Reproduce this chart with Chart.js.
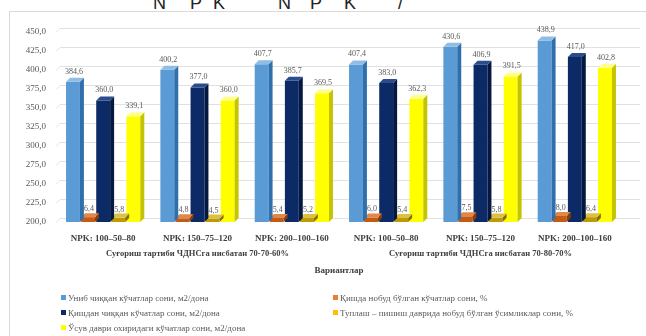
<!DOCTYPE html>
<html>
<head>
<meta charset="utf-8">
<script src="https://cdn.jsdelivr.net/npm/chart.js@4/dist/chart.umd.min.js"></script>
<style>
  html, body { margin: 0; padding: 0; background: #fff; }
  #wrap { position: relative; width: 646px; height: 336px; overflow: hidden; font-family: "Liberation Serif", serif; }
  #frame { position: absolute; left: 9px; top: 11px; width: 680px; height: 360px; border: 1px solid #d9d9d9; box-sizing: border-box; }
  #strip { position: absolute; left: 0; top: 0; width: 646px; height: 9px; overflow: hidden; font-family: "Liberation Sans", sans-serif; font-size: 18px; color: #222; }
  #strip span { position: absolute; top: -6px; line-height: 18px; }
  #chart { position: absolute; left: 0; top: 0; }
  #legend { position: absolute; left: 61px; top: 290px; display: grid; grid-template-columns: 272px auto; grid-auto-rows: 15px; font-size: 9px; color: #595959; }
  #legend div { white-space: nowrap; display: flex; align-items: center; }
  #legend i { display: inline-block; width: 5px; height: 5px; margin-right: 2px; }
</style>
</head>
<body>
<div id="wrap">
  <div id="strip"><span style="left:153px">N</span><span style="left:190px">P</span><span style="left:213px">K</span><span style="left:278px">N</span><span style="left:310px">P</span><span style="left:344px">K</span><span style="left:398px">/</span></div>
  <div id="frame"></div>
  <canvas id="chart" width="646" height="336"></canvas>
  <div id="legend"></div>
</div>
<script>
// Fertiliser variants under two irrigation regimes
const categories = ['NPK: 100–50–80', 'NPK: 150–75–120', 'NPK: 200–100–160',
                    'NPK: 100–50–80', 'NPK: 150–75–120', 'NPK: 200–100–160'];
const regimes = ['Суғориш тартиби ЧДНСга нисбатан 70-70-60%',
                 'Суғориш тартиби ЧДНСга нисбатан 70-80-70%'];
const axisTitle = 'Вариантлар';

// Plant counts, pcs per m2
const emerged     = [384.6, 400.2, 407.7, 407.4, 430.6, 438.9];
const afterWinter = [360.0, 377.0, 385.7, 383.0, 406.9, 417.0];
const endOfSeason = [339.1, 360.0, 369.5, 362.3, 391.5, 402.8];
// Losses, %
const winterLoss  = [6.4, 4.8, 5.4, 6.0, 7.5, 8.0];
const seasonLoss  = [5.8, 4.5, 5.2, 5.4, 5.8, 6.4];

const seriesNames = [
  'Униб чиққан кўчатлар сони, м2/дона',
  'Қишда нобуд бўлган кўчатлар сони, %',
  'Қишдан чиққан кўчатлар сони, м2/дона',
  'Туплаш – пишиш даврида нобуд бўлган ўсимликлар сони, %',
  'Ўсув даври охиридаги кўчатлар сони, м2/дона'
];

const yMin = 200, yMax = 450, yStep = 25;

const fmt = v => v.toFixed(1).replace('.', ',');
const serif = '"Liberation Serif", serif';
const DEPTH = 4;

// front / top / side shades for each series
const shades = [
  { front: '#5b9bd5', top: '#8fbde6', side: '#2f6fab', legend: '#5b9bd5' },
  { front: '#c55a11', top: '#e0884a', side: '#8a3d0b', legend: '#ed7d31' },
  { front: '#0c2a66', top: '#2c4d8c', side: '#051940', legend: '#0c2a66' },
  { front: '#bf9a00', top: '#dcc040', side: '#8a6f00', legend: '#ffc000' },
  { front: '#ffff00', top: '#ffff8c', side: '#c4c400', legend: '#ffff00' }
];

const seriesData = [emerged, winterLoss, afterWinter, seasonLoss, endOfSeason];
const seriesAxis = ['y', 'y2', 'y', 'y2', 'y'];

const datasets = seriesData.map((d, i) => ({
  label: seriesNames[i],
  data: d,
  yAxisID: seriesAxis[i],
  backgroundColor: shades[i].front,
  borderWidth: 0,
  categoryPercentage: 0.8,
  barPercentage: 0.92
}));

// Gridlines on the back wall: a short slant from the axis, then across the plot
const backWall = {
  id: 'backWall',
  beforeDatasetsDraw(chart) {
    const ctx = chart.ctx;
    const ys = chart.scales.y;
    const { left, right } = chart.chartArea;
    ctx.save();
    ctx.strokeStyle = '#e1e1e1';
    ctx.lineWidth = 1;
    ys.ticks.forEach(t => {
      const py = Math.round(ys.getPixelForValue(t.value)) + 0.5;
      ctx.beginPath();
      ctx.moveTo(left, py);
      ctx.lineTo(left + DEPTH, py - DEPTH);
      ctx.lineTo(right + 18, py - DEPTH);
      ctx.stroke();
    });
    ctx.restore();
  }
};

// Draws the receding top and right faces of every bar, kept inside the plot area
const depthFaces = {
  id: 'depthFaces',
  afterDatasetDraw(chart, args) {
    const ctx = chart.ctx;
    const s = shades[args.index];
    const d = DEPTH;
    const floor = chart.chartArea.bottom;
    ctx.save();
    args.meta.data.forEach(bar => {
      const { x, y, base, width } = bar.getProps(['x', 'y', 'base', 'width'], true);
      const l = x - width / 2, r = x + width / 2;
      const top = Math.min(y, base, floor);
      const bot = Math.min(Math.max(y, base), floor);
      ctx.fillStyle = s.side;
      ctx.beginPath();
      ctx.moveTo(r, top); ctx.lineTo(r + d, top - d); ctx.lineTo(r + d, bot - d); ctx.lineTo(r, bot);
      ctx.closePath(); ctx.fill();
      ctx.fillStyle = s.top;
      ctx.beginPath();
      ctx.moveTo(l, top); ctx.lineTo(l + d, top - d); ctx.lineTo(r + d, top - d); ctx.lineTo(r, top);
      ctx.closePath(); ctx.fill();
    });
    ctx.restore();
  }
};

// Value labels: the loss series sit low and are partly covered by neighbouring bars
function drawLabels(chart, wanted) {
  const ctx = chart.ctx;
  ctx.save();
  ctx.font = '8px ' + serif;
  ctx.fillStyle = '#595959';
  ctx.textAlign = 'center';
  ctx.textBaseline = 'alphabetic';
  chart.data.datasets.forEach((ds, i) => {
    if ((ds.yAxisID === 'y2') !== wanted) return;
    chart.getDatasetMeta(i).data.forEach((bar, j) => {
      const lift = wanted ? 2 : 4;
      ctx.fillText(fmt(ds.data[j]), bar.x + 1, bar.y - DEPTH - lift);
    });
  });
  ctx.restore();
}
const valueLabels = {
  id: 'valueLabels',
  beforeDatasetsDraw(chart) { drawLabels(chart, true); },
  afterDatasetsDraw(chart) { drawLabels(chart, false); }
};

const boldTick = { family: serif, size: 9, weight: 'bold' };

const chart = new Chart(document.getElementById('chart'), {
  type: 'bar',
  data: { labels: categories, datasets },
  plugins: [backWall, depthFaces, valueLabels],
  options: {
    responsive: false,
    animation: false,
    layout: { padding: { left: 10, right: 24, top: 32, bottom: 60 } },
    plugins: { legend: { display: false }, tooltip: { enabled: false } },
    scales: {
      y: {
        min: yMin, max: yMax,
        ticks: { stepSize: yStep, callback: v => fmt(v), font: { family: serif, size: 9 }, color: '#595959', padding: 10 },
        grid: { display: false, drawTicks: false },
        border: { display: false },
        afterFit(scale) { scale.width = 46; }
      },
      y2: { display: false, min: 0, max: yMax - yMin },
      x: {
        weight: 0,
        grid: { display: false, drawTicks: false },
        border: { display: false },
        ticks: { autoSkip: false, maxRotation: 0, font: boldTick, color: '#404040', padding: 11 },
        afterFit(scale) { scale.height = 22; }
      },
      x2: {
        type: 'category',
        labels: regimes,
        position: 'bottom',
        offset: true,
        weight: 1,
        grid: { display: false, drawTicks: false },
        border: { display: false },
        ticks: { autoSkip: false, maxRotation: 0, font: { family: serif, size: 8.5, weight: 'bold' }, color: '#404040', padding: 5 },
        title: { display: true, text: axisTitle, font: boldTick, color: '#404040', padding: { top: 6, bottom: 0 } },
        afterFit(scale) { scale.height = 32; }
      }
    }
  }
});

// Legend in two columns, built from the chart's datasets
const legend = document.getElementById('legend');
chart.data.datasets.forEach((ds, i) => {
  const item = document.createElement('div');
  const sw = document.createElement('i');
  sw.style.background = shades[i].legend;
  item.appendChild(sw);
  item.appendChild(document.createTextNode(ds.label));
  legend.appendChild(item);
});
</script>
</body>
</html>
